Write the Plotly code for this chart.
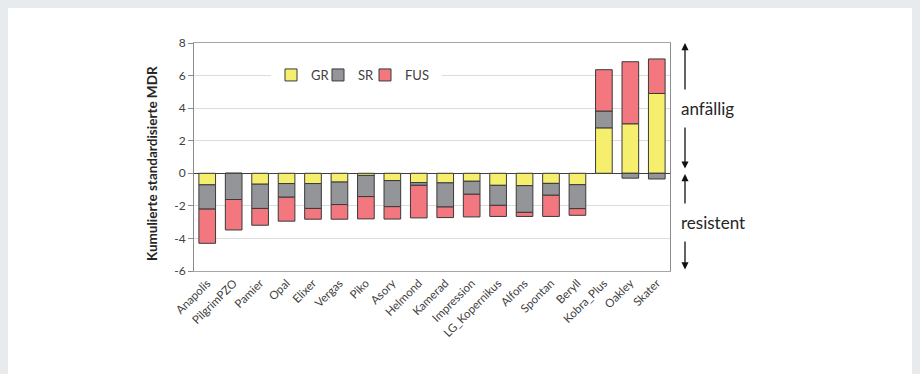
import plotly.graph_objects as go

categories = ["Anapolis", "PilgrimPZO", "Pamier", "Opal", "Elixer", "Vergas", "Piko", "Asory",
              "Helmond", "Kamerad", "Impression", "LG_Kopernikus", "Alfons", "Spontan", "Beryll",
              "Kobra_Plus", "Oakley", "Skater"]
gr_values = [-0.71, 0.0, -0.67, -0.63, -0.63, -0.54, -0.13, -0.45, -0.57, -0.59, -0.49, -0.74,
             -0.76, -0.62, -0.70, 2.79, 3.04, 4.90]
sr_values = [-1.49, -1.61, -1.49, -0.84, -1.53, -1.38, -1.30, -1.60, -0.17, -1.48, -0.80, -1.23,
             -1.64, -0.73, -1.47, 1.03, -0.30, -0.35]
fus_values = [-2.10, -1.87, -1.03, -1.47, -0.66, -0.90, -1.37, -0.76, -2.00, -0.65, -1.39, -0.68,
              -0.25, -1.30, -0.41, 2.54, 3.81, 2.12]
series_names = ["GR", "SR", "FUS"]
series_colors = ["#F6EF6E", "#939598", "#F2777F"]
y_ticks = [-6, -4, -2, 0, 2, 4, 6, 8]
y_title = "Kumulierte standardisierte MDR"
label_top = "anfällig"
label_bottom = "resistent"

FONT = "Lato, Carlito, 'Open Sans', sans-serif"
W, H = 912, 366
L, R, T, B = 186, 662, 35, 263

fig = go.Figure()
legend_widths = [2, 2, 32]
for name, vals, col, lw in zip(series_names, [gr_values, sr_values, fus_values], series_colors,
                               legend_widths):
    fig.add_trace(go.Bar(
        x=categories, y=vals, name=name, legendwidth=lw,
        marker=dict(color=col, line=dict(color="#3a3a3a", width=1)),
    ))

def px_x(px):
    return (px - L) / (R - L)

def px_y(py):
    return (B - py) / (B - T)

arrow_x = px_x(677)
annotations = [
    dict(xref="paper", x=arrow_x, yref="y", y=8, axref="pixel", ax=0, ayref="y", ay=0.2,
         text="", showarrow=True, arrowside="end+start", arrowhead=2, arrowsize=1.1,
         arrowwidth=1.3, arrowcolor="#111111"),
    dict(xref="paper", x=arrow_x, yref="y", y=-0.05, axref="pixel", ax=0, ayref="y", ay=-6,
         text="", showarrow=True, arrowside="end+start", arrowhead=2, arrowsize=1.1,
         arrowwidth=1.3, arrowcolor="#111111"),
    dict(xref="paper", x=px_x(664), yref="y", y=3.95, text=label_top, showarrow=False,
         xanchor="left", yanchor="middle", font=dict(family=FONT, size=17, color="#262626"),
         bgcolor="white", borderpad=8),
    dict(xref="paper", x=px_x(664), yref="y", y=-3.0, text=label_bottom, showarrow=False,
         xanchor="left", yanchor="middle", font=dict(family=FONT, size=17, color="#262626"),
         bgcolor="white", borderpad=8),
    dict(xref="paper", x=px_x(144), yref="paper", y=px_y(156), text="<b>" + y_title + "</b>",
         showarrow=False, textangle=-90, xanchor="center", yanchor="middle",
         font=dict(family=FONT, size=13.5, color="#262626")),
]

fig.update_layout(
    width=W, height=H,
    margin=dict(l=L, r=W - R, t=T, b=H - B),
    paper_bgcolor="white", plot_bgcolor="white",
    barmode="relative", bargap=0.37,
    font=dict(family=FONT, size=11, color="#404040"),
    showlegend=True,
    legend=dict(orientation="h", x=px_x(263), xanchor="left", y=px_y(67), yanchor="middle",
                bgcolor="white", font=dict(family=FONT, size=13, color="#404040"),
                itemwidth=30, traceorder="normal", entrywidthmode="pixels"),
    annotations=annotations,
)
fig.update_xaxes(
    type="category", tickangle=-45, showgrid=False, ticks="",
    showline=True, linecolor="#a6a6a6", linewidth=1, mirror=True,
    tickfont=dict(family=FONT, size=11.5, color="#404040"),
)
fig.update_yaxes(
    range=[-6, 8], tickvals=y_ticks, ticktext=[str(v) for v in y_ticks],
    showgrid=True, gridcolor="#dcdcdc", gridwidth=1,
    zeroline=True, zerolinecolor="#404040", zerolinewidth=1.3,
    showline=True, linecolor="#8c8c8c", linewidth=1, mirror=True,
    ticks="outside", ticklen=5, tickcolor="#8c8c8c",
    tickfont=dict(family=FONT, size=12, color="#404040"),
)

fig.write_html(
    "out.html",
    post_script="document.body.style.backgroundColor='#e8ebee';"
                "document.body.style.overflow='hidden';"
                "document.documentElement.style.overflow='hidden';",
)
